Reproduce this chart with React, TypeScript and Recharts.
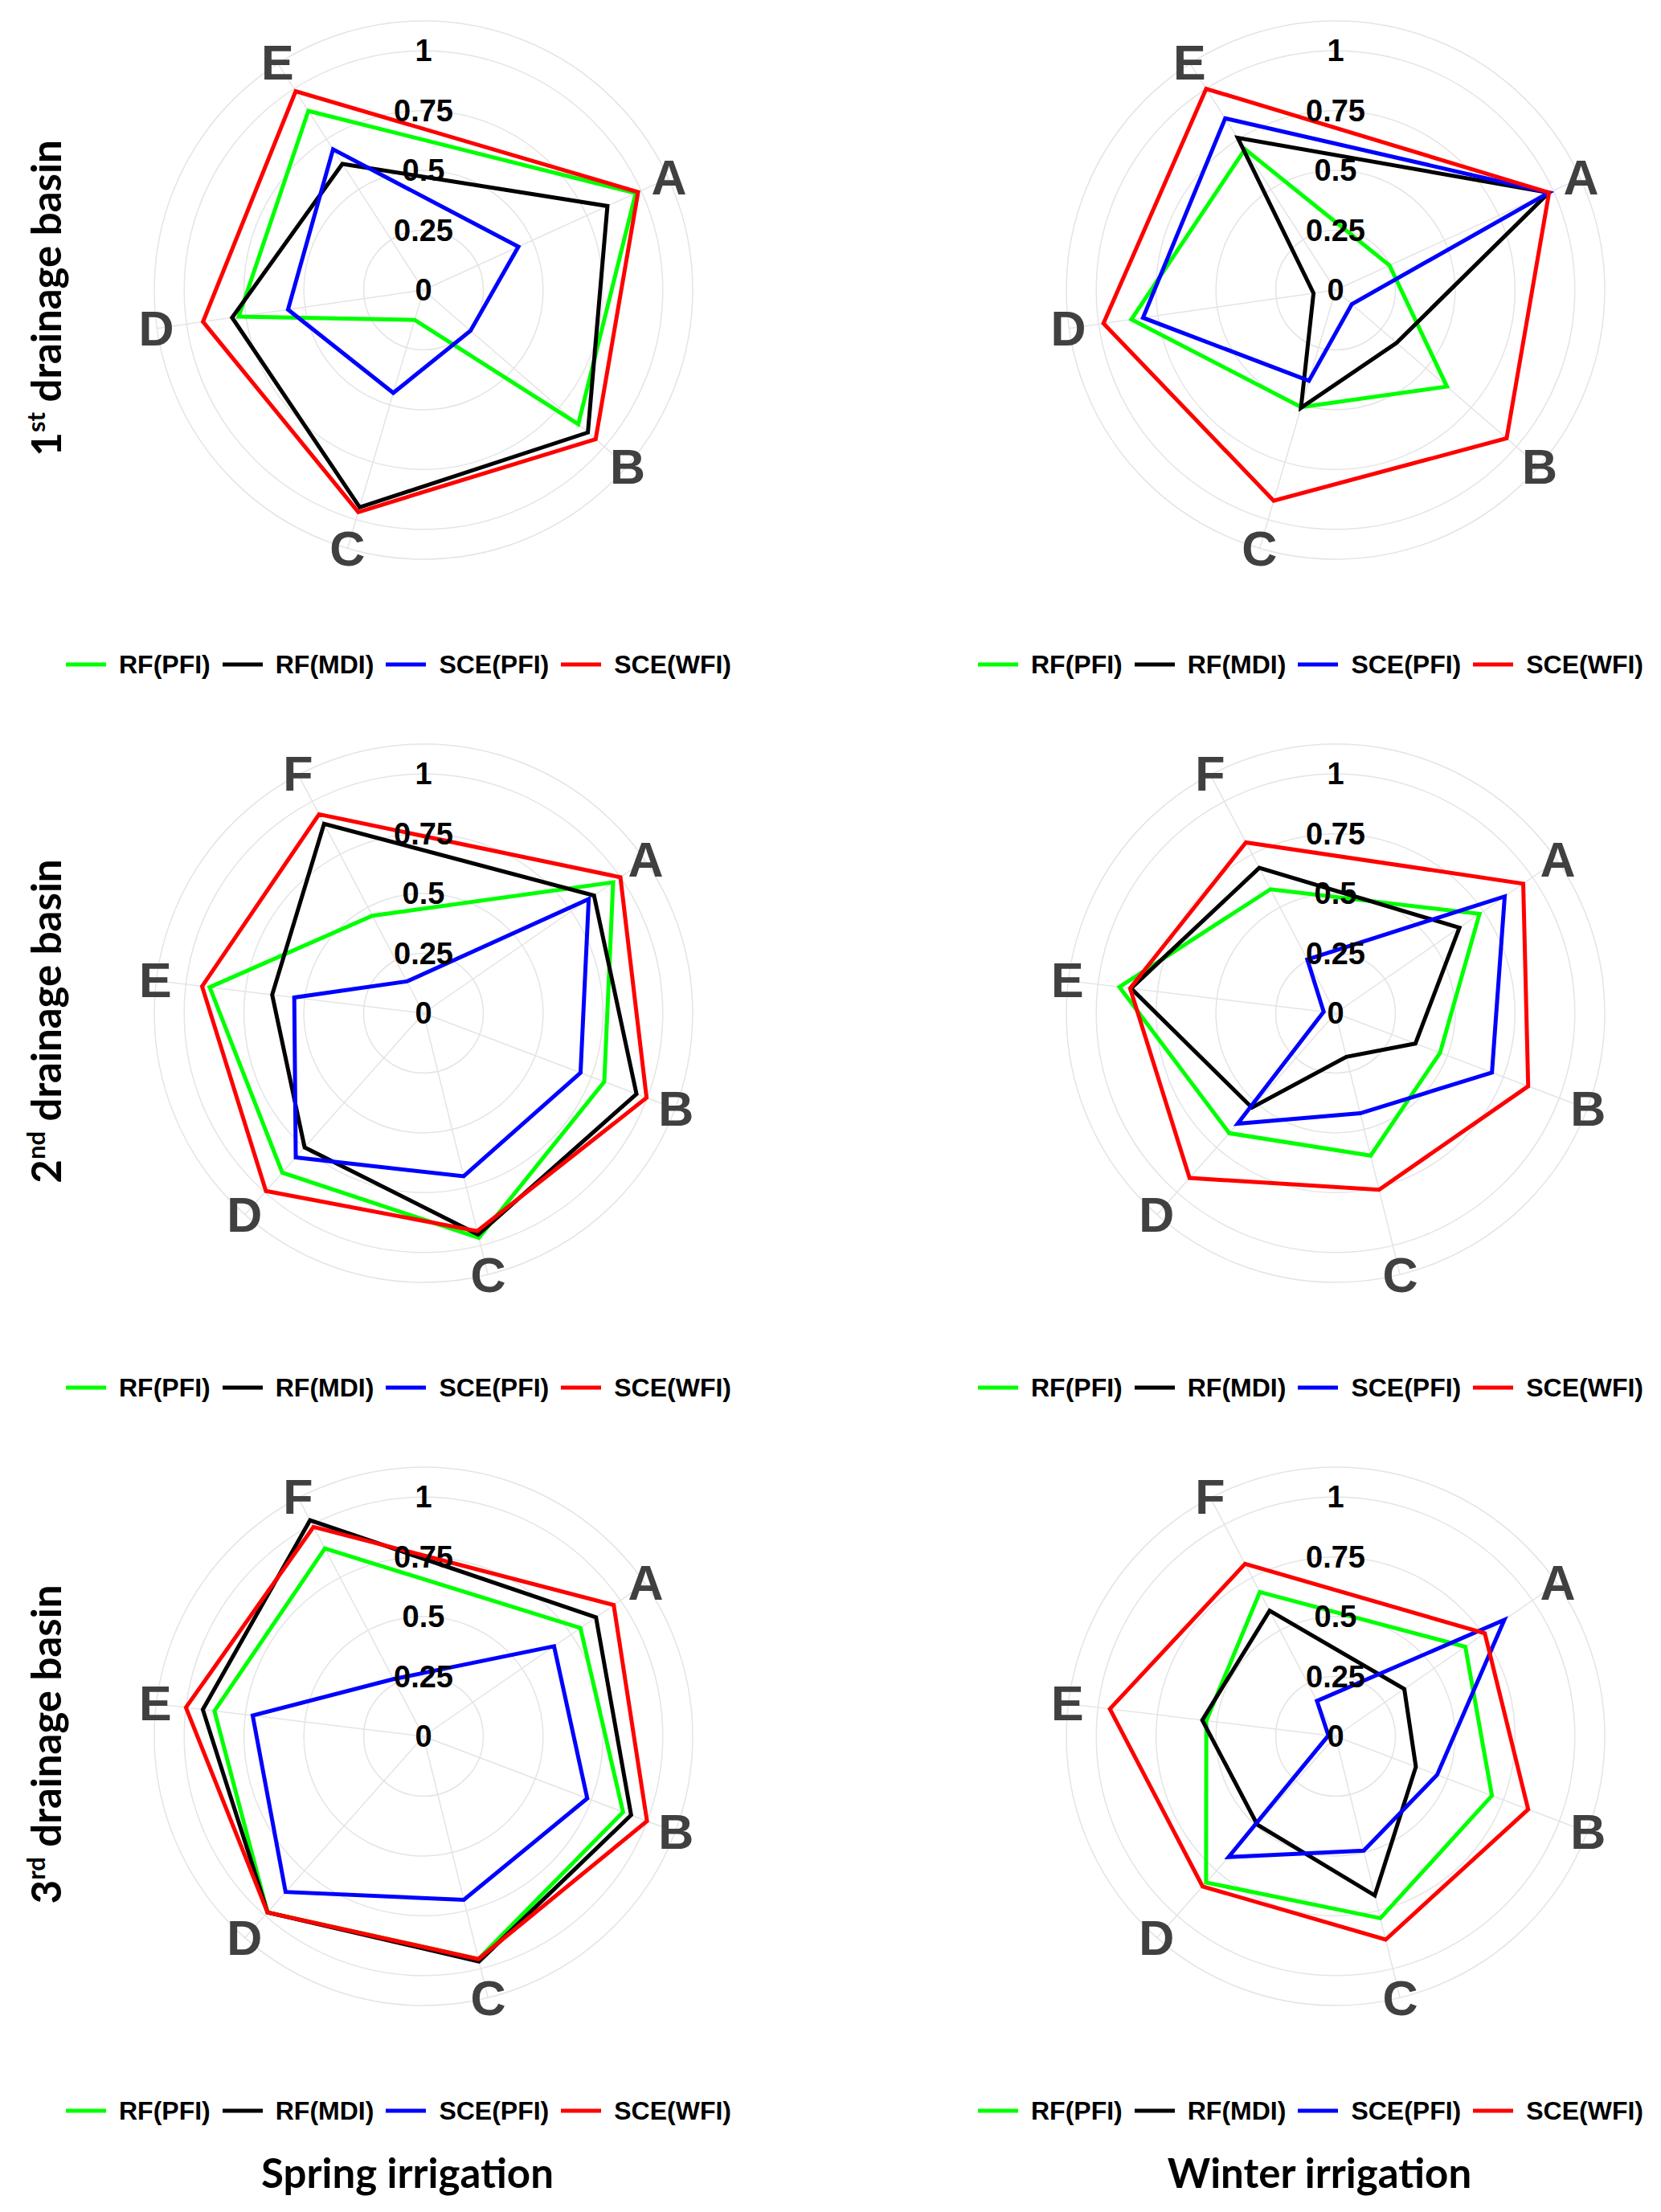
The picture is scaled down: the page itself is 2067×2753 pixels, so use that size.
import React from 'react';
import { RadarChart, Radar, PolarGrid, PolarAngleAxis, PolarRadiusAxis, Legend } from 'recharts';

// ---------- data ----------
const categories5 = ['A', 'B', 'C', 'D', 'E'];
const categories6 = ['A', 'B', 'C', 'D', 'E', 'F'];
const radiusTicks = [0, 0.25, 0.5, 0.75, 1, 1.125];
const radiusDomain = [0, 1.125];

const seriesNames = ['RF(PFI)', 'RF(MDI)', 'SCE(PFI)', 'SCE(WFI)'];
const seriesColors = ['#00ff00', '#000000', '#0000ff', '#ff0000'];

const rowTitles = [
  { num: '1', sup: 'st' },
  { num: '2', sup: 'nd' },
  { num: '3', sup: 'rd' },
];
const columnTitles = ['Spring irrigation', 'Winter irrigation'];

// 1st drainage basin - spring
const spring1RfPfi = [0.975, 0.856, 0.13, 0.78, 0.89];
const spring1RfMdi = [0.845, 0.909, 0.946, 0.808, 0.627];
const spring1ScePfi = [0.436, 0.26, 0.448, 0.572, 0.699];
const spring1SceWfi = [0.986, 0.952, 0.967, 0.931, 0.988];

// 1st drainage basin - winter
const winter1RfPfi = [0.248, 0.616, 0.51, 0.862, 0.7];
const winter1RfMdi = [0.98, 0.337, 0.513, 0.093, 0.756];
const winter1ScePfi = [0.98, 0.09, 0.395, 0.813, 0.853];
const winter1SceWfi = [0.981, 0.946, 0.918, 0.98, 1.0];

// 2nd drainage basin - spring
const spring2RfPfi = [0.963, 0.808, 0.967, 0.89, 0.9, 0.46];
const spring2RfMdi = [0.866, 0.952, 0.953, 0.749, 0.637, 0.894];
const spring2ScePfi = [0.839, 0.702, 0.702, 0.805, 0.544, 0.15];
const spring2SceWfi = [1.0, 0.997, 0.938, 0.993, 0.932, 0.939];

// 2nd drainage basin - winter
const winter2RfPfi = [0.731, 0.467, 0.613, 0.67, 0.91, 0.585];
const winter2RfMdi = [0.629, 0.357, 0.188, 0.527, 0.861, 0.686];
const winter2ScePfi = [0.859, 0.699, 0.431, 0.617, 0.05, 0.254];
const winter2SceWfi = [0.953, 0.861, 0.76, 0.92, 0.865, 0.806];

// 3rd drainage basin - spring
const spring3RfPfi = [0.797, 0.892, 0.959, 0.983, 0.88, 0.887];
const spring3RfMdi = [0.876, 0.928, 0.969, 0.983, 0.929, 1.02];
const spring3ScePfi = [0.663, 0.732, 0.704, 0.869, 0.719, 0.27];
const spring3SceWfi = [0.966, 0.999, 0.959, 0.983, 1.0, 0.989];

// 3rd drainage basin - winter
const winter3RfPfi = [0.659, 0.699, 0.783, 0.816, 0.544, 0.681];
const winter3RfMdi = [0.349, 0.359, 0.685, 0.493, 0.561, 0.593];
const winter3ScePfi = [0.857, 0.454, 0.492, 0.674, 0.03, 0.167];
const winter3SceWfi = [0.758, 0.861, 0.875, 0.838, 0.95, 0.814];

// ---------- layout ----------
const PAGE_W = 2067;
const PAGE_H = 2753;
const COL_CENTERS = [527, 1662];
const ROW_CENTERS = [361, 1261, 2161];
const PANEL_W = 1030;
const PANEL_H = 900;
const CX = 515;
const CY = 360;
const OUTER_R = 335;

const ARIAL = '"Liberation Sans", Arial, Helvetica, sans-serif';
const CALIBRI = 'Lato, "Open Sans", "Noto Sans", sans-serif';

const AngleTick = (props: any) => {
  const { x, y, payload } = props;
  return (
    <text
      x={x}
      y={y}
      textAnchor="middle"
      dominantBaseline="central"
      fontFamily={ARIAL}
      fontWeight="bold"
      fontSize={61}
      fill="#404040"
    >
      {payload.value}
    </text>
  );
};

const RadiusTick = (props: any) => {
  const { x, y, payload } = props;
  if (payload.value > 1) return <g />;
  return (
    <text
      x={x}
      y={y}
      textAnchor="middle"
      dominantBaseline="central"
      fontFamily={ARIAL}
      fontWeight="bold"
      fontSize={38}
      fill="#000"
    >
      {String(payload.value)}
    </text>
  );
};

const LegendContent = () => (
  <div style={{ display: 'flex', alignItems: 'center', paddingLeft: 70, height: 36 }}>
    {seriesNames.map((name, i) => (
      <div key={name} style={{ display: 'flex', alignItems: 'center', marginRight: 15 }}>
        <svg width={50} height={6} style={{ display: 'block' }}>
          <line x1={0} y1={3} x2={50} y2={3} stroke={seriesColors[i]} strokeWidth={5} />
        </svg>
        <span
          style={{
            marginLeft: 16,
            fontFamily: ARIAL,
            fontWeight: 700,
            fontSize: 32,
            lineHeight: '36px',
            color: '#000',
            whiteSpace: 'pre',
          }}
        >
          {name}
        </span>
      </div>
    ))}
  </div>
);

type PanelProps = { left: number; top: number; categories: string[]; series: number[][] };

const Panel = ({ left, top, categories, series }: PanelProps) => {
  const data = categories.map((c, i) => {
    const row: any = { cat: c };
    series.forEach((s, k) => {
      row['s' + k] = s[i];
    });
    return row;
  });
  const n = categories.length;
  const step = 360 / (n + 0.5);
  const startAngle = 90 - step;
  const endAngle = startAngle - n * step;
  return (
    <div style={{ position: 'absolute', left, top, width: PANEL_W, height: PANEL_H }}>
      <RadarChart
        width={PANEL_W}
        height={PANEL_H}
        data={data}
        cx={CX}
        cy={CY}
        outerRadius={OUTER_R}
        startAngle={startAngle}
        endAngle={endAngle}
        margin={{ top: 0, right: 0, bottom: 0, left: 0 }}
      >
        <PolarGrid gridType="circle" stroke="#e4e4e4" strokeWidth={1.5} />
        <PolarAngleAxis dataKey="cat" tick={<AngleTick />} tickLine={false} axisLine={false} tickSize={1} />
        <PolarRadiusAxis
          angle={90}
          type="number"
          domain={radiusDomain}
          ticks={radiusTicks}
          tick={<RadiusTick />}
          axisLine={false}
          tickLine={false}
        />
        {series.map((_, k) => (
          <Radar
            key={k}
            name={seriesNames[k]}
            dataKey={'s' + k}
            stroke={seriesColors[k]}
            strokeWidth={5}
            strokeLinejoin="miter"
            fill="none"
            fillOpacity={0}
            dot={false}
            isAnimationActive={false}
          />
        ))}
        <Legend content={<LegendContent />} wrapperStyle={{ left: 0, top: 808, width: PANEL_W }} />
      </RadarChart>
    </div>
  );
};

const panels = [
  { row: 0, col: 0, categories: categories5, series: [spring1RfPfi, spring1RfMdi, spring1ScePfi, spring1SceWfi] },
  { row: 0, col: 1, categories: categories5, series: [winter1RfPfi, winter1RfMdi, winter1ScePfi, winter1SceWfi] },
  { row: 1, col: 0, categories: categories6, series: [spring2RfPfi, spring2RfMdi, spring2ScePfi, spring2SceWfi] },
  { row: 1, col: 1, categories: categories6, series: [winter2RfPfi, winter2RfMdi, winter2ScePfi, winter2SceWfi] },
  { row: 2, col: 0, categories: categories6, series: [spring3RfPfi, spring3RfMdi, spring3ScePfi, spring3SceWfi] },
  { row: 2, col: 1, categories: categories6, series: [winter3RfPfi, winter3RfMdi, winter3ScePfi, winter3SceWfi] },
];

export default function App() {
  return (
    <div
      style={{
        position: 'absolute',
        left: 0,
        top: 0,
        width: PAGE_W,
        height: PAGE_H,
        background: '#fff',
        overflow: 'hidden',
      }}
    >
      <svg width={PAGE_W} height={PAGE_H} style={{ position: 'absolute', left: 0, top: 0 }}>
        {rowTitles.map((t, i) => (
          <text
            key={i}
            transform={`translate(76, ${ROW_CENTERS[i] + 10}) rotate(-90)`}
            textAnchor="middle"
            fontFamily={CALIBRI}
            fontWeight={700}
            fontSize={51}
            fill="#000"
            style={{ whiteSpace: 'pre' }}
          >
            {t.num}
            <tspan fontSize={31} dy={-20}>
              {t.sup}
            </tspan>
            <tspan dy={20}>{' drainage basin'}</tspan>
          </text>
        ))}
        {columnTitles.map((t, i) => (
          <text
            key={t}
            x={COL_CENTERS[i] - 20}
            y={2723}
            textAnchor="middle"
            fontFamily={CALIBRI}
            fontWeight={700}
            fontSize={51}
            fill="#000"
          >
            {t}
          </text>
        ))}
      </svg>
      {panels.map((p, i) => (
        <Panel
          key={i}
          left={COL_CENTERS[p.col] - CX}
          top={ROW_CENTERS[p.row] - CY}
          categories={p.categories}
          series={p.series}
        />
      ))}
    </div>
  );
}
